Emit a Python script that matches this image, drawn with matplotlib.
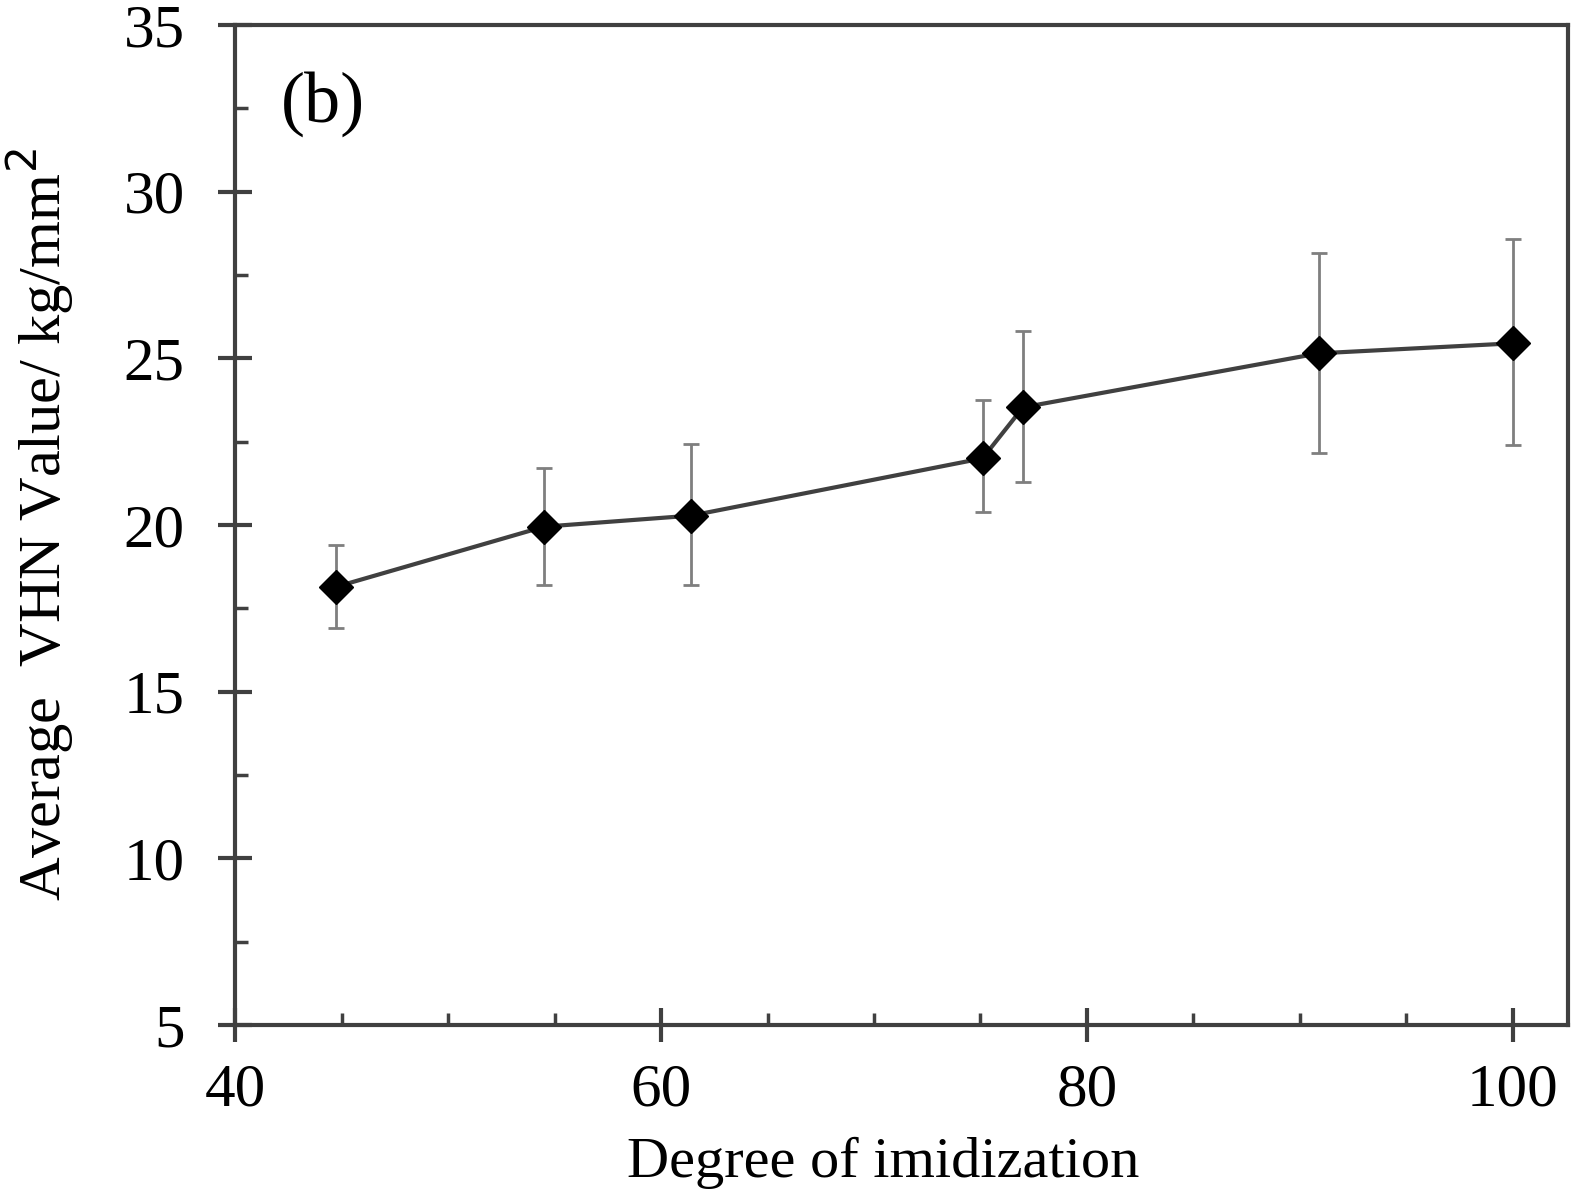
import matplotlib
matplotlib.use("Agg")
import matplotlib.pyplot as plt
import numpy as np
from matplotlib.ticker import MultipleLocator

imidization = [44.7, 54.5, 61.4, 75.1, 77.0, 90.9, 100.0]
vhn = [18.14, 19.95, 20.28, 22.0, 23.53, 25.15, 25.45]
err_upper = [1.27, 1.77, 2.16, 1.74, 2.28, 3.01, 3.13]
err_lower = [1.23, 1.75, 2.08, 1.60, 2.23, 2.98, 3.04]

x_ticks = [40, 60, 80, 100]
y_ticks = [5, 10, 15, 20, 25, 30, 35]

plt.rcParams['font.family'] = ['Liberation Serif', 'DejaVu Serif']

fig = plt.figure(figsize=(15.75, 12.03), dpi=100)
ax = fig.add_axes([0.1495, 0.1480, 0.8460, 0.8312])

ax.errorbar(imidization, vhn, yerr=[err_lower, err_upper], fmt='none',
            ecolor='#7f7f7f', elinewidth=2.0, capsize=6, capthick=2.0, zorder=2)
ax.plot(imidization, vhn, color='#404040', linewidth=3, zorder=3)
ax.plot(imidization, vhn, linestyle='none', marker='D', markersize=17,
        markerfacecolor='black', markeredgecolor='black', zorder=4)

ax.set_xlim(40, 102.6)
ax.set_ylim(5, 35)
ax.set_xticks(x_ticks)
ax.set_yticks(y_ticks)
ax.xaxis.set_minor_locator(MultipleLocator(5))
ax.yaxis.set_minor_locator(MultipleLocator(2.5))

for s in ax.spines.values():
    s.set_linewidth(3)
    s.set_color('#404040')

ax.tick_params(axis='both', which='major', direction='inout', length=25, width=3,
               color='#404040', labelsize=44)
ax.tick_params(axis='both', which='minor', direction='in', length=9, width=2.5,
               color='#404040')
ax.tick_params(axis='x', which='major', pad=15)
ax.tick_params(axis='y', which='major', pad=24)

ax.set_xlabel('Degree of imidization', fontsize=42)
ax.xaxis.set_label_coords(0.486, -0.112)
ax.set_ylabel('Average  VHN Value/ kg/mm$^{2}$', fontsize=43.5, labelpad=34)

ax.text(0.034, 0.954, '(b)', transform=ax.transAxes, fontsize=52,
        ha='left', va='top')

fig.savefig('out.png', dpi=100)
